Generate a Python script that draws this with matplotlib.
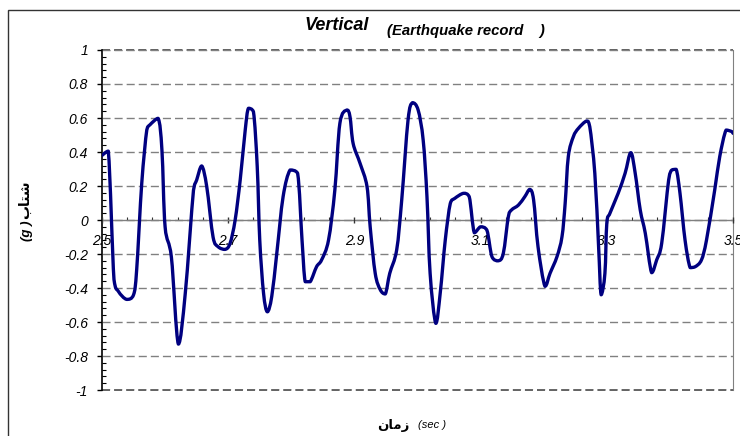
# vertical ground acceleration, earthquake record window 2.5 - 3.5 s
import numpy as np
import matplotlib as mpl
mpl.use('Agg')
import matplotlib.pyplot as plt
import matplotlib.ticker as mticker
from matplotlib.patches import Rectangle, PathPatch
from matplotlib.path import Path

mpl.rcParams['font.family'] = ['Liberation Sans', 'DejaVu Sans']
mpl.rcParams['axes.unicode_minus'] = False
mpl.rcParams['lines.scale_dashes'] = False

# time (sec) and acceleration (g)
tsec = [2.500, 2.510, 2.519, 2.526, 2.539, 2.550, 2.555, 2.563, 2.571, 2.576,
        2.589, 2.595, 2.600, 2.610, 2.621, 2.632, 2.645, 2.650, 2.658, 2.666,
        2.676, 2.684, 2.695, 2.703, 2.711, 2.719, 2.727, 2.732, 2.740, 2.746,
        2.750, 2.756, 2.762, 2.769, 2.777, 2.787, 2.798, 2.810, 2.817, 2.822,
        2.830, 2.840, 2.848, 2.859, 2.869, 2.877, 2.888, 2.893, 2.898, 2.909,
        2.920, 2.925, 2.933, 2.941, 2.949, 2.956, 2.967, 2.975, 2.985, 2.992,
        3.001, 3.009, 3.015, 3.020, 3.029, 3.036, 3.044, 3.052, 3.059, 3.073,
        3.082, 3.090, 3.100, 3.110, 3.118, 3.128, 3.136, 3.144, 3.149, 3.160,
        3.170, 3.178, 3.184, 3.191, 3.202, 3.210, 3.221, 3.229, 3.234, 3.239,
        3.247, 3.255, 3.268, 3.273, 3.281, 3.287, 3.291, 3.297, 3.300, 3.305,
        3.318, 3.329, 3.338, 3.345, 3.353, 3.361, 3.371, 3.379, 3.387, 3.398,
        3.403, 3.410, 3.416, 3.424, 3.432, 3.440, 3.450, 3.458, 3.471, 3.479,
        3.489, 3.498, 3.500]
accg = [0.38, 0.405, -0.35, -0.42, -0.467, -0.44, -0.29, 0.216, 0.53, 0.56,
        0.598, 0.41, -0.04, -0.22, -0.73, -0.43, 0.176, 0.235, 0.318, 0.196,
        -0.10, -0.157, -0.173, -0.137, 0.0, 0.235, 0.53, 0.657, 0.637, 0.314,
        -0.118, -0.43, -0.54, -0.45, -0.196, 0.137, 0.294, 0.275, -0.118, -0.363,
        -0.363, -0.275, -0.235, -0.118, 0.176, 0.569, 0.647, 0.608, 0.45, 0.333,
        0.196, -0.04, -0.314, -0.41, -0.435, -0.314, -0.176, 0.118, 0.588, 0.69,
        0.647, 0.47, 0.137, -0.314, -0.608, -0.43, -0.118, 0.098, 0.127, 0.157,
        0.137, -0.075, -0.04, -0.06, -0.216, -0.24, -0.196, 0.02, 0.059, 0.088,
        0.137, 0.18, 0.118, -0.157, -0.39, -0.314, -0.216, -0.098, 0.098, 0.373,
        0.49, 0.539, 0.582, 0.549, 0.275, -0.157, -0.44, -0.314, -0.02, 0.04,
        0.157, 0.275, 0.396, 0.275, 0.059, -0.078, -0.31, -0.235, -0.137, 0.235,
        0.294, 0.298, 0.157, -0.118, -0.28, -0.275, -0.235, -0.118, 0.176, 0.373,
        0.529, 0.52, 0.51]

xticks = [2.5, 2.7, 2.9, 3.1, 3.3, 3.5]
yticks = [-1, -0.8, -0.6, -0.4, -0.2, 0, 0.2, 0.4, 0.6, 0.8, 1]

# arabic words as presentation forms, visual order
lblAcc = '\ufe8f\ufe8e\ufe98\ufeb7'
lblTime = '\ufee5\ufe8e\ufee3\ufeaf'


def smoothPath(xs, ys):
    # smoothed line: cubic bezier through every point, handles kept
    # inside the segment's value range so peaks don't overshoot
    pts = np.column_stack([xs, ys])
    ext = np.vstack([pts[0], pts, pts[-1]])
    verts = [pts[0]]
    codes = [Path.MOVETO]
    for i in range(len(pts) - 1):
        p0, p1, p2, p3 = ext[i], ext[i+1], ext[i+2], ext[i+3]
        c1 = p1 + (p2 - p0)/6.
        c2 = p2 - (p3 - p1)/6.
        lo, hi = min(p1[1], p2[1]), max(p1[1], p2[1])
        c1[1] = np.clip(c1[1], lo, hi)
        c2[1] = np.clip(c2[1], lo, hi)
        verts += [c1, c2, p2]
        codes += [Path.CURVE4]*3
    return Path(verts, codes)


def main():
    W, H = 740., 436.
    fig = plt.figure(figsize=(7.4, 4.36), dpi=100)

    # chart frame
    frame = Rectangle((8/W, -0.05), 1.2, 1.05 - 10/H, transform=fig.transFigure,
                      fill=False, edgecolor='#333333', lw=1.0, clip_on=False)
    fig.add_artist(frame)

    axs = fig.add_axes([102/W, 1 - 390/H, 631/W, 340/H])
    curve = PathPatch(smoothPath(tsec, accg), facecolor='none', edgecolor='#000080',
                      lw=2.4, joinstyle='round', capstyle='round', zorder=3)
    axs.add_patch(curve)
    axs.set_xlim(2.5, 3.5)
    axs.set_ylim(-1, 1)

    axs.spines['top'].set_visible(False)
    axs.spines['bottom'].set_position(('data', 0))
    axs.spines['bottom'].set_color('#808080')
    axs.spines['bottom'].set_linewidth(1.0)
    axs.spines['right'].set_color('#808080')
    axs.spines['left'].set_color('black')
    axs.spines['left'].set_linewidth(1.2)

    axs.xaxis.set_major_locator(mticker.FixedLocator(xticks))
    axs.xaxis.set_minor_locator(mticker.FixedLocator(np.linspace(2.5, 3.5, 26)))
    axs.yaxis.set_major_locator(mticker.FixedLocator(yticks))
    axs.yaxis.set_minor_locator(mticker.MultipleLocator(0.04))
    fmt = mticker.FuncFormatter(lambda v, p: '%g' % round(v, 2))
    axs.xaxis.set_major_formatter(fmt)
    axs.yaxis.set_major_formatter(fmt)

    axs.tick_params(axis='y', which='major', direction='out', length=3.6, width=1,
                    color='black', pad=6.5, labelsize=10)
    axs.tick_params(axis='y', which='minor', direction='in', length=2.9, width=0.8,
                    color='black')
    axs.tick_params(axis='x', which='major', direction='inout', length=4.7, width=1,
                    color='#333333', pad=8.0, labelsize=10)
    axs.tick_params(axis='x', which='minor', direction='in', length=2.2, width=0.8,
                    color='#333333')
    for lb in axs.get_xticklabels() + axs.get_yticklabels():
        lb.set_fontstyle('italic')

    axs.yaxis.grid(True, which='major', color='#808080', lw=1.0,
                   linestyle=(0, (5.8, 2.9)))
    # top and bottom edges of the plot area
    for yv in (yticks[0], yticks[-1]):
        axs.axhline(yv, color='#555555', lw=1.3, linestyle=(0, (5.8, 2.9)),
                    clip_on=False, zorder=2)
    axs.set_axisbelow(False)

    # titles
    fig.text(305/W, 1 - 29.5/H, 'Vertical', fontsize=13, fontweight='bold',
             fontstyle='italic', ha='left', va='baseline')
    fig.text(387/W, 1 - 35.5/H, '(Earthquake record    )', fontsize=10.7,
             fontweight='bold', fontstyle='italic', ha='left', va='baseline')

    # axis labels
    fig.text(25/W, 1 - 200/H, lblAcc, fontsize=10, fontweight='bold',
             rotation=90, ha='center', va='center')
    fig.text(27/W, 1 - 231/H, '(g )', fontsize=9.5, fontweight='bold',
             fontstyle='italic', rotation=90, ha='center', va='center')
    fig.text(393/W, 1 - 425/H, lblTime, fontsize=9.5, fontweight='bold',
             ha='center', va='center')
    fig.text(418/W, 1 - 425/H, '(sec )', fontsize=8, fontstyle='italic',
             ha='left', va='center')

    plt.savefig('out.png', dpi=100)


if __name__ == '__main__':
    main()
